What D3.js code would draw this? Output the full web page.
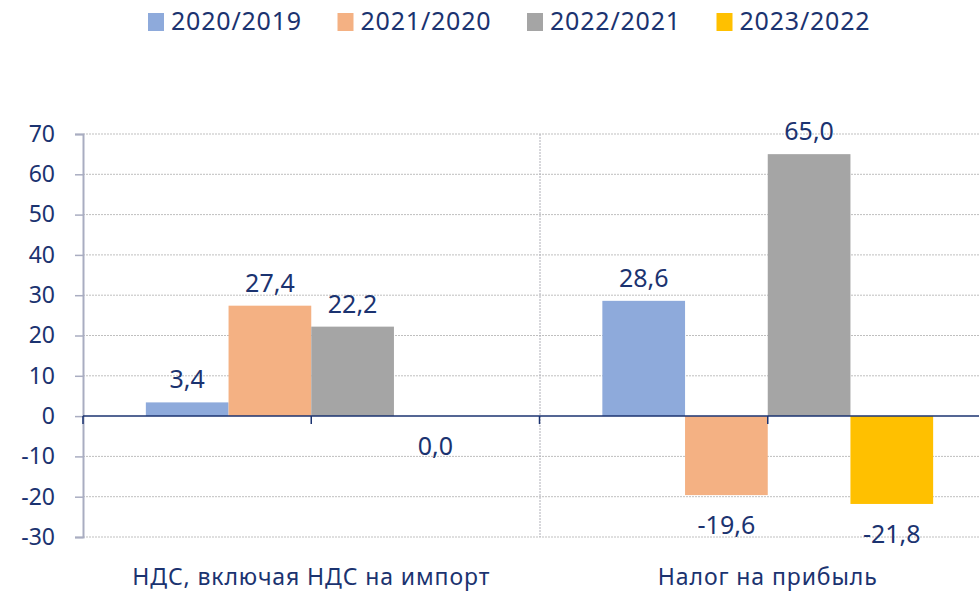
<!DOCTYPE html>
<html>
<head>
<meta charset="utf-8">
<script src="https://cdn.jsdelivr.net/npm/d3@7"></script>
<style>
  body { margin: 0; background: #fff; }
  text { font-family: "Noto Sans", "Lato", sans-serif; fill: #1b3370; }
</style>
</head>
<body>
<script>
// chart data
const categories = ["НДС, включая НДС на импорт", "Налог на прибыль"];
const seriesNames = ["2020/2019", "2021/2020", "2022/2021", "2023/2022"];
const seriesColors = ["#8eaadb", "#f4b183", "#a5a5a5", "#ffc000"];
const vatValues = [3.4, 27.4, 22.2, 0.0];
const profitValues = [28.6, -19.6, 65.0, -21.8];
const yTicks = [70, 60, 50, 40, 30, 20, 10, 0, -10, -20, -30];

const rows = [vatValues, profitValues];

const width = 979, height = 594;
const margin = { top: 134, right: -17, bottom: 57, left: 83 };

const svg = d3.select("body").append("svg")
    .attr("width", width)
    .attr("height", height);

const x = d3.scaleBand()
    .domain(categories)
    .range([margin.left, width - margin.right])
    .padding(0);

const xs = d3.scaleBand()
    .domain(seriesNames)
    .range([0, x.bandwidth()])
    .paddingInner(0)
    .paddingOuter(0.76);

const y = d3.scaleLinear()
    .domain([-30, 70])
    .range([height - margin.bottom, margin.top]);

const fmt = v => v.toFixed(1).replace(".", ",");

// gridlines
svg.append("g")
    .selectAll("line")
    .data(yTicks.filter(d => d !== 0))
    .join("line")
    .attr("x1", margin.left)
    .attr("x2", width)
    .attr("y1", d => y(d))
    .attr("y2", d => y(d))
    .attr("stroke", "#bfbfbf")
    .attr("stroke-width", 1)
    .attr("stroke-dasharray", "2,1");

// vertical separator between categories
svg.append("line")
    .attr("x1", x(categories[1]) + 0.5)
    .attr("x2", x(categories[1]) + 0.5)
    .attr("y1", y(70))
    .attr("y2", y(-30))
    .attr("stroke", "#b0b0b8")
    .attr("stroke-dasharray", "2,1");

// y axis
const yAxis = svg.append("g")
    .attr("transform", `translate(${margin.left},0)`)
    .call(d3.axisLeft(y).tickValues(yTicks).tickSize(8).tickPadding(20).tickFormat(d => d));
yAxis.select(".domain").attr("stroke", "#a9adc1").attr("stroke-width", 2);
yAxis.selectAll(".tick line").attr("stroke", "#a9adc1").attr("stroke-width", 1.5);
yAxis.selectAll("text")
    .style("font-size", "23px")
    .attr("fill", "#1b3370")
    .attr("text-anchor", "end")
    .attr("x", -28);

// bars
const groups = svg.append("g")
    .selectAll("g")
    .data(categories)
    .join("g")
    .attr("transform", d => `translate(${x(d)},0)`);

groups.selectAll("rect")
    .data((d, i) => rows[i].map((v, j) => ({ v, s: seriesNames[j], c: seriesColors[j] })))
    .join("rect")
    .attr("x", d => xs(d.s))
    .attr("width", xs.bandwidth())
    .attr("y", d => y(Math.max(0, d.v)))
    .attr("height", d => Math.abs(y(d.v) - y(0)))
    .attr("fill", d => d.c);

groups.selectAll("text")
    .data((d, i) => rows[i].map((v, j) => ({ v, s: seriesNames[j] })))
    .join("text")
    .attr("x", d => xs(d.s) + xs.bandwidth() / 2)
    .attr("y", d => d.v > 0 ? y(d.v) - 14 : y(d.v) + 39)
    .attr("text-anchor", "middle")
    .style("font-size", "25px")
    .text(d => fmt(d.v));

// zero axis line with ticks
svg.append("line")
    .attr("x1", margin.left)
    .attr("x2", width)
    .attr("y1", y(0))
    .attr("y2", y(0))
    .attr("stroke", "#1b3370")
    .attr("stroke-width", 1.5);

const tickXs = [];
categories.forEach(c => { tickXs.push(x(c)); tickXs.push(x(c) + x.bandwidth() / 2); });
svg.append("g")
    .selectAll("line")
    .data(tickXs)
    .join("line")
    .attr("x1", d => d)
    .attr("x2", d => d)
    .attr("y1", y(0))
    .attr("y2", y(0) + 8)
    .attr("stroke", "#1b3370")
    .attr("stroke-width", 1.5);

// category labels
svg.append("g")
    .selectAll("text")
    .data(categories)
    .join("text")
    .attr("x", d => x(d) + x.bandwidth() / 2)
    .attr("y", 585)
    .attr("text-anchor", "middle")
    .style("font-size", "23px")
    .style("letter-spacing", "0.9px")
    .text(d => d);

// legend
const legend = svg.append("g")
    .selectAll("g")
    .data(seriesNames)
    .join("g")
    .attr("transform", (d, i) => `translate(${148 + i * 189.5},0)`);

legend.append("rect")
    .attr("y", 13)
    .attr("width", 16)
    .attr("height", 18)
    .attr("fill", (d, i) => seriesColors[i]);

legend.append("text")
    .attr("x", 23)
    .attr("y", 30)
    .style("font-size", "25px")
    .style("letter-spacing", "0.8px")
    .text(d => d);
</script>
</body>
</html>
